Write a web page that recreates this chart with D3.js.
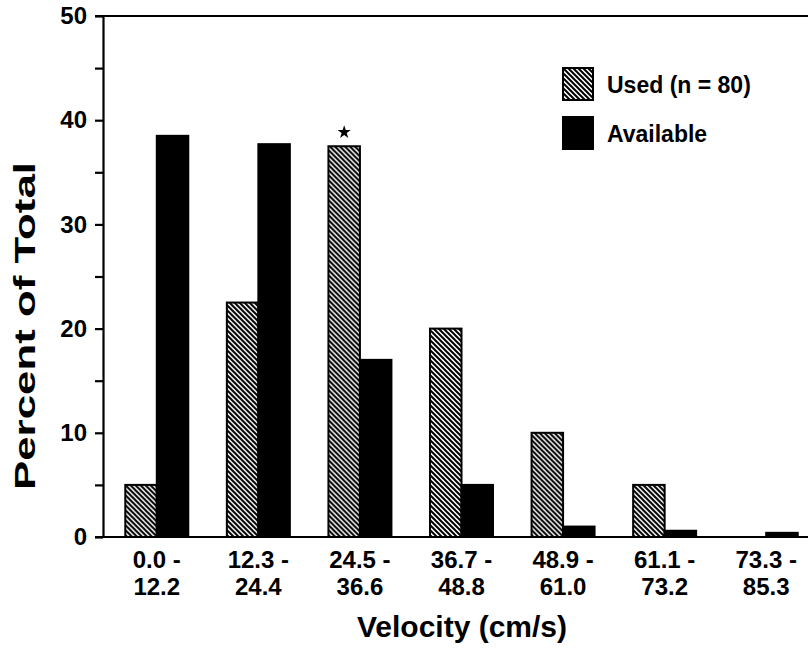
<!DOCTYPE html>
<html>
<head>
<meta charset="utf-8">
<script src="https://cdn.jsdelivr.net/npm/d3@7"></script>
<style>
  html, body { margin: 0; padding: 0; background: #fff; }
  svg { display: block; }
  text { font-family: "Liberation Sans", Arial, Helvetica, sans-serif; font-weight: bold; fill: #000; }
</style>
</head>
<body>
<script>
// ---- data ----
const categories = ["0.0 - 12.2", "12.3 - 24.4", "24.5 - 36.6", "36.7 - 48.8", "48.9 - 61.0", "61.1 - 73.2", "73.3 - 85.3"];
const seriesNames = ["Used (n = 80)", "Available"];
const usedValues = [5.0, 22.5, 37.5, 20.0, 10.0, 5.0, 0.0];
const availableValues = [38.5, 37.7, 17.0, 5.0, 1.0, 0.6, 0.4];
const majorTicks = [0, 10, 20, 30, 40, 50];
const minorTicks = [5, 15, 25, 35, 45];
const significant = ["24.5 - 36.6"]; // marked with asterisk (Used)
const xTitle = "Velocity (cm/s)";
const yTitle = "Percent of Total";

// ---- layout ----
const W = 808, H = 648;
const svg = d3.select("body").append("svg").attr("width", W).attr("height", H);

const defs = svg.append("defs");
const pat = defs.append("pattern").attr("id", "hatch")
  .attr("patternUnits", "userSpaceOnUse").attr("width", 5).attr("height", 5);
pat.append("rect").attr("width", 5).attr("height", 5).attr("fill", "#fff");
pat.append("path").attr("d", "M-1,-1 L6,6 M-1,4 L1,6 M4,-1 L6,1")
  .attr("stroke", "#000").attr("stroke-width", 2);

const yAxisX = 103;
const y = d3.scaleLinear().domain([0, 50]).range([537, 16]);
const x0 = d3.scaleBand().domain(categories).range([106, 817]).padding(0);
const groupW = 63;
const x1 = d3.scaleBand().domain(seriesNames).range([0, groupW]).padding(0);

const rows = categories.map((c, i) => ({cat: c, vals: [
  {s: seriesNames[0], v: usedValues[i]},
  {s: seriesNames[1], v: availableValues[i]}
]}));

const fills = {[seriesNames[0]]: "url(#hatch)", [seriesNames[1]]: "#000"};

// bars
const g = svg.append("g");
g.selectAll("g.grp").data(rows).join("g").attr("class", "grp")
  .attr("transform", d => `translate(${x0(d.cat) + x0.bandwidth() / 2 - groupW / 2},0)`)
  .selectAll("rect").data(d => d.vals.filter(e => e.v > 0)).join("rect")
  .attr("x", d => x1(d.s))
  .attr("width", x1.bandwidth())
  .attr("y", d => y(d.v))
  .attr("height", d => y(0) - y(d.v))
  .attr("fill", d => fills[d.s])
  .attr("stroke", "#000").attr("stroke-width", 2);

// asterisk
significant.forEach(c => {
  const i = categories.indexOf(c);
  svg.append("path")
    .attr("d", d3.symbol().type(d3.symbolStar).size(55)())
    .attr("transform", `translate(${x0(c) + x0.bandwidth() / 2 - groupW / 2 + x1(seriesNames[0]) + x1.bandwidth() / 2},${y(usedValues[i]) - 14})`)
    .attr("fill", "#000");
});

// y axis
const yAxis = svg.append("g").attr("transform", `translate(${yAxisX},0)`)
  .call(d3.axisLeft(y).tickValues(majorTicks).tickSize(8).tickSizeOuter(0).tickPadding(8).tickFormat(d3.format("d")));
yAxis.select(".domain").attr("stroke-width", 2.2);
yAxis.selectAll(".tick line").attr("stroke-width", 2.2);
yAxis.selectAll(".tick text").style("font-size", "24px").attr("font-family", null);

const yMinor = svg.append("g").attr("transform", `translate(${yAxisX},0)`)
  .call(d3.axisLeft(y).tickValues(minorTicks).tickSize(8).tickSizeOuter(0).tickFormat(""));
yMinor.select(".domain").remove();
yMinor.selectAll(".tick line").attr("stroke-width", 2.2);

// top and bottom frame lines
svg.append("line").attr("x1", yAxisX - 8).attr("x2", W).attr("y1", y(50)).attr("y2", y(50))
  .attr("stroke", "#000").attr("stroke-width", 2.2);
svg.append("line").attr("x1", yAxisX - 8).attr("x2", W).attr("y1", y(0)).attr("y2", y(0))
  .attr("stroke", "#000").attr("stroke-width", 2.2);

// x axis labels
const xAxis = svg.append("g").attr("transform", `translate(0,${y(0)})`)
  .call(d3.axisBottom(x0).tickSize(0).tickFormat(""));
xAxis.select(".domain").remove();
xAxis.selectAll(".tick").each(function(d) {
  const parts = d.split(" - ");
  const t = d3.select(this).append("text").attr("text-anchor", "middle").style("font-size", "24px");
  t.append("tspan").attr("x", 0).attr("y", 31).text(parts[0] + " -");
  t.append("tspan").attr("x", 0).attr("y", 58).text(parts[1]);
});

// axis titles
svg.append("text").attr("x", 462).attr("y", 637).attr("text-anchor", "middle")
  .style("font-size", "30px").text(xTitle);
svg.append("text").attr("transform", "translate(35,326) rotate(-90)").attr("text-anchor", "middle")
  .style("font-size", "30px").attr("textLength", 328).attr("lengthAdjust", "spacingAndGlyphs").text(yTitle);

// legend
const legend = svg.append("g").attr("transform", "translate(563,68)");
seriesNames.forEach((s, i) => {
  const lg = legend.append("g").attr("transform", `translate(0,${i * 49})`);
  lg.append("rect").attr("width", 30).attr("height", 32)
    .attr("fill", fills[s]).attr("stroke", "#000").attr("stroke-width", 2);
  lg.append("text").attr("x", 44).attr("y", 25).style("font-size", "23px").text(s);
});
</script>
</body>
</html>
